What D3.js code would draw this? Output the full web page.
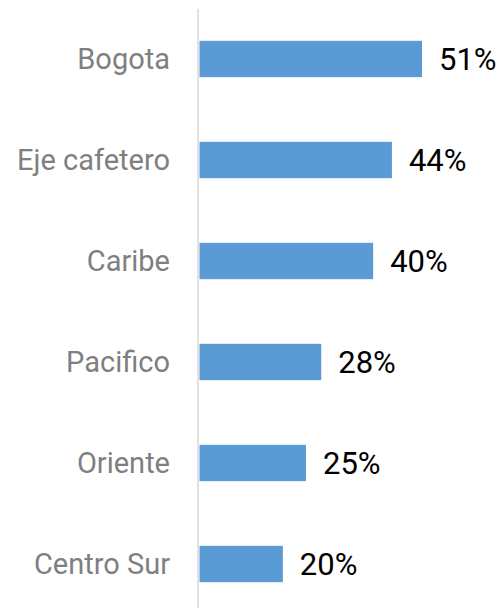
<!DOCTYPE html>
<html>
<head>
<meta charset="utf-8">
<script src="https://cdn.jsdelivr.net/npm/d3@7"></script>
<style>
  html, body { margin: 0; padding: 0; background: #fff; }
  svg { display: block; font-family: Roboto, "Noto Sans", sans-serif; }
</style>
</head>
<body>
<div class="chart"></div>
<script>
// data (bar lengths), labels as printed
var regions = ["Bogota", "Eje cafetero", "Caribe", "Pacifico", "Oriente", "Centro Sur"];
var shares = [0.510, 0.441, 0.398, 0.279, 0.244, 0.191];
var shareLabels = ["51%", "44%", "40%", "28%", "25%", "20%"];

var width = 504,
    height = 608;

var data = regions.map((r, i) => ({ region: r, value: shares[i], label: shareLabels[i] }));

var x = d3.scaleLinear()
    .domain([0, 0.6])
    .range([199.5, 461.3]);

var y = d3.scaleBand()
    .domain(regions)
    .range([8.5, 614.5])
    .paddingInner(0.64)
    .paddingOuter(0.32);

var svg = d3.select(".chart").append("svg")
    .attr("width", width)
    .attr("height", height)
    .attr("viewBox", [0, 0, width, height]);

svg.append("g")
    .selectAll("rect")
    .data(data)
    .join("rect")
    .attr("x", x(0))
    .attr("y", d => y(d.region))
    .attr("width", d => x(d.value) - x(0))
    .attr("height", y.bandwidth())
    .attr("fill", "#5b9bd5");

// category axis, only the line kept
var yAxis = g => g
    .attr("transform", `translate(${x(0) - 1.5},0)`)
    .call(d3.axisLeft(y).tickSize(0).tickPadding(28))
    .call(g => g.select(".domain")
        .attr("d", `M0,9V${height}`)
        .attr("stroke", "#d9d9d9")
        .attr("stroke-width", 1.5))
    .call(g => g.selectAll(".tick text")
        .attr("fill", "#7f7f7f")
        .attr("font-size", 29)
        .attr("font-family", "Roboto, sans-serif")
        .attr("dy", "0.33em"));

svg.append("g").call(yAxis);

svg.append("g")
    .selectAll("text")
    .data(data)
    .join("text")
    .attr("x", d => x(d.value) + 17)
    .attr("y", d => y(d.region) + y.bandwidth() / 2)
    .attr("dy", "0.36em")
    .attr("font-size", 31)
    .attr("fill", "#000")
    .text(d => d.label);
</script>
</body>
</html>
